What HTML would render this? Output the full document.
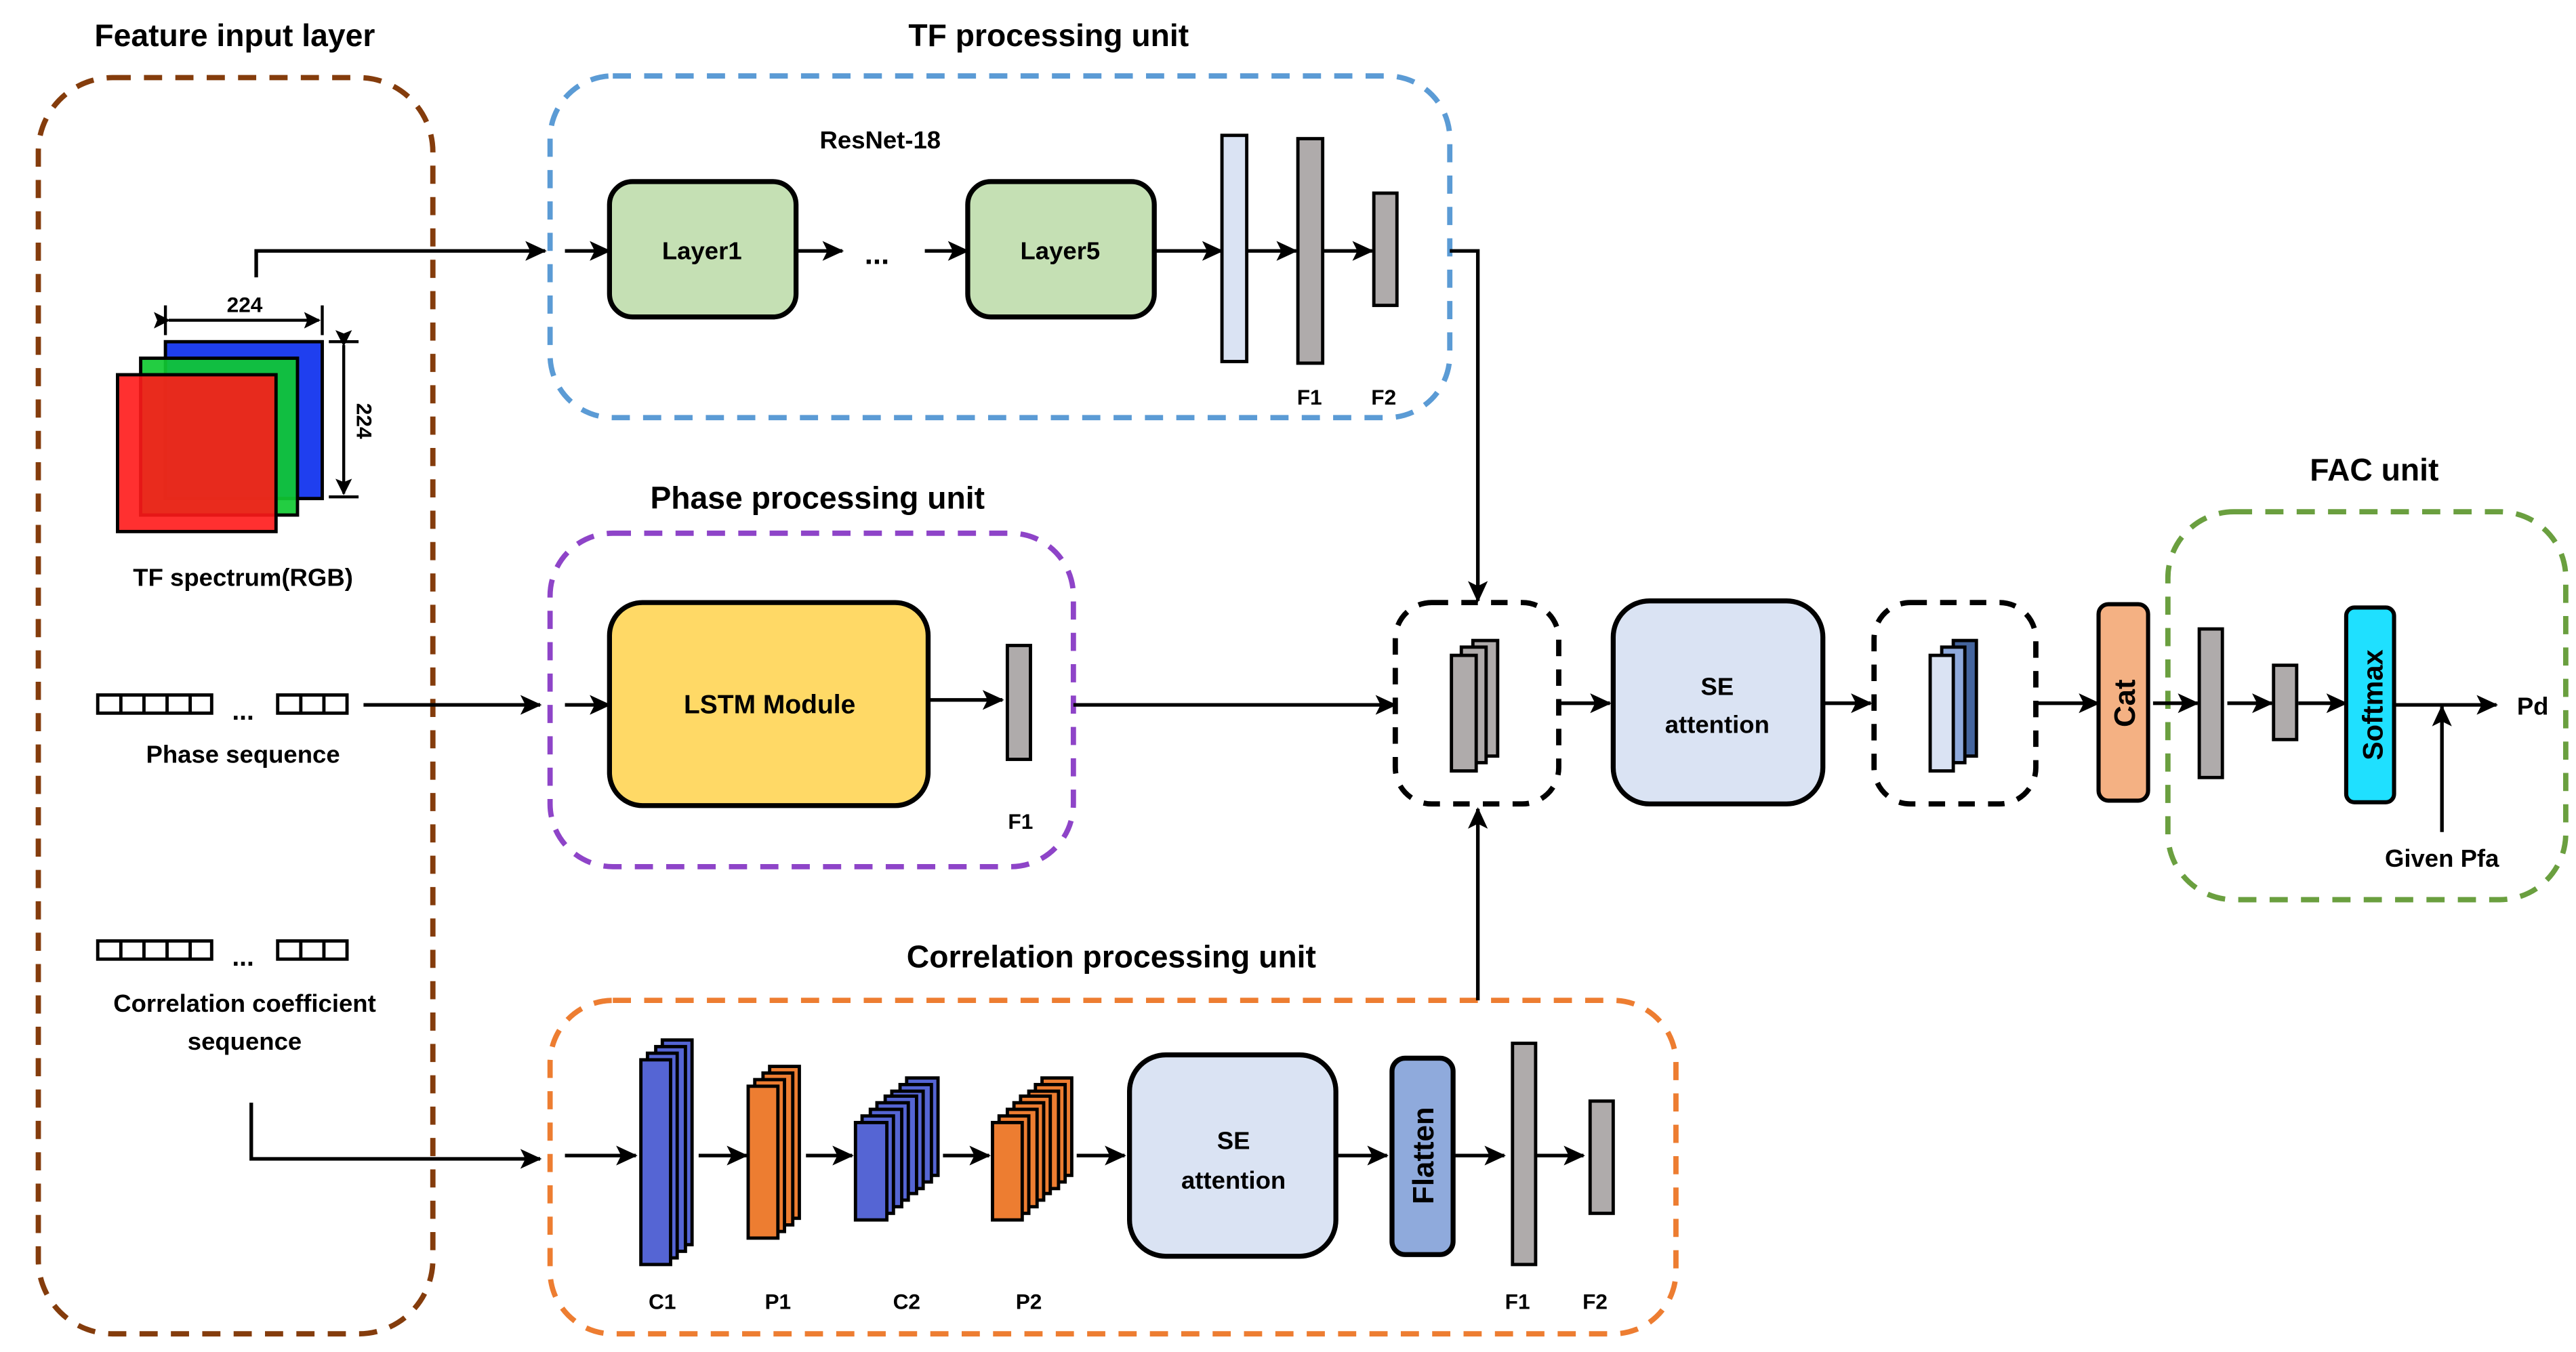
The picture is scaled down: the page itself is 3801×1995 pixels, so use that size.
<!DOCTYPE html>
<html><head><meta charset="utf-8"><style>html,body{margin:0;padding:0;background:#fff}svg{display:block}</style></head>
<body>
<svg width="3801" height="1995" viewBox="0 0 1560 819" xmlns="http://www.w3.org/2000/svg" font-family="Liberation Sans, sans-serif" font-weight="bold">
<defs>
<marker id="a" markerWidth="13" markerHeight="12" refX="12" refY="6" orient="auto" markerUnits="userSpaceOnUse"><path d="M0,0 L13,6 L0,12 L3,6 z" fill="#000"/></marker>
<marker id="d" markerWidth="10" markerHeight="10" refX="9" refY="5" orient="auto" markerUnits="userSpaceOnUse"><path d="M0,0 L10,5 L0,10 L2,5 z" fill="#000"/></marker>
</defs>
<rect width="1560" height="819" fill="#fff"/>
<rect x="23" y="47" width="239" height="761" rx="45" fill="none" stroke="#843C0C" stroke-width="3.2" stroke-dasharray="11 8"/>
<rect x="333" y="46" width="545" height="207" rx="38" fill="none" stroke="#5B9BD5" stroke-width="3.2" stroke-dasharray="11 8"/>
<rect x="333" y="323" width="317" height="202" rx="38" fill="none" stroke="#8E44C8" stroke-width="3.2" stroke-dasharray="11 8"/>
<rect x="333" y="606" width="682" height="202" rx="38" fill="none" stroke="#ED7D31" stroke-width="3.2" stroke-dasharray="11 8"/>
<rect x="1313" y="310" width="241" height="235" rx="40" fill="none" stroke="#6A9F3F" stroke-width="3.2" stroke-dasharray="11 8"/>
<rect x="845" y="365" width="99" height="122" rx="22" fill="none" stroke="#000" stroke-width="3.2" stroke-dasharray="10 8"/>
<rect x="1135" y="365" width="98" height="122" rx="22" fill="none" stroke="#000" stroke-width="3.2" stroke-dasharray="10 8"/>
<g font-size="19" text-anchor="middle">
<text x="142" y="28">Feature input layer</text>
<text x="635" y="28">TF processing unit</text>
<text x="495" y="308">Phase processing unit</text>
<text x="673" y="586">Correlation processing unit</text>
<text x="1438" y="291">FAC unit</text>
</g>
<g font-size="15" text-anchor="middle">
<text x="533" y="90">ResNet-18</text>
<text x="147" y="355">TF spectrum(RGB)</text>
<text x="147" y="462">Phase sequence</text>
<text x="148" y="613">Correlation coefficient</text>
<text x="148" y="636">sequence</text>
<text x="793" y="245" font-size="13">F1</text>
<text x="838" y="245" font-size="13">F2</text>
<text x="618" y="502" font-size="13">F1</text>
<text x="401" y="793" font-size="13">C1</text>
<text x="471" y="793" font-size="13">P1</text>
<text x="549" y="793" font-size="13">C2</text>
<text x="623" y="793" font-size="13">P2</text>
<text x="919" y="793" font-size="13">F1</text>
<text x="966" y="793" font-size="13">F2</text>
<text x="1534" y="433">Pd</text>
<text x="1479" y="525">Given Pfa</text>
</g>
<rect x="100" y="207" width="95" height="95" fill="#1F3FEF" stroke="#000" stroke-width="2"/>
<rect x="85" y="217" width="95" height="95" fill="#10C932" fill-opacity="0.92" stroke="#000" stroke-width="2"/>
<rect x="71" y="227" width="96" height="95" fill="#FF1A1A" fill-opacity="0.9" stroke="#000" stroke-width="2"/>
<g stroke="#000" stroke-width="1.8" fill="none">
<line x1="100" y1="185" x2="100" y2="203"/><line x1="195" y1="185" x2="195" y2="203"/>
<line x1="102" y1="194" x2="193" y2="194" marker-start="url(#d)" marker-end="url(#d)"/>
<line x1="199" y1="207" x2="217" y2="207"/><line x1="199" y1="301" x2="217" y2="301"/>
<line x1="208" y1="209" x2="208" y2="299" marker-start="url(#d)" marker-end="url(#d)"/>
</g>
<text x="148" y="189" font-size="13" text-anchor="middle">224</text>
<text transform="translate(216,255) rotate(90)" font-size="13" text-anchor="middle">224</text>
<g fill="none" stroke="#000" stroke-width="2">
<rect x="59" y="421" width="69" height="11"/><path d="M73,421v11M87,421v11M101,421v11M115,421v11"/>
<rect x="168" y="421" width="42" height="11"/><path d="M182,421v11M196,421v11"/>
<rect x="59" y="570" width="69" height="11"/><path d="M73,570v11M87,570v11M101,570v11M115,570v11"/>
<rect x="168" y="570" width="42" height="11"/><path d="M182,570v11M196,570v11"/>
</g>
<text x="147" y="436" font-size="16" text-anchor="middle">...</text>
<text x="147" y="585" font-size="16" text-anchor="middle">...</text>
<rect x="369" y="110" width="113" height="82" rx="14" fill="#C5E0B4" stroke="#000" stroke-width="3"/>
<rect x="586" y="110" width="113" height="82" rx="14" fill="#C5E0B4" stroke="#000" stroke-width="3"/>
<text x="425" y="157" font-size="15" text-anchor="middle">Layer1</text>
<text x="642" y="157" font-size="15" text-anchor="middle">Layer5</text>
<text x="531" y="160" font-size="18" text-anchor="middle">...</text>
<rect x="740" y="82" width="15" height="137" fill="#DAE3F3" stroke="#000" stroke-width="2"/>
<rect x="786" y="84" width="15" height="136" fill="#AFABAB" stroke="#000" stroke-width="2"/>
<rect x="832" y="117" width="14" height="68" fill="#AFABAB" stroke="#000" stroke-width="2"/>
<g stroke="#000" stroke-width="2.2" fill="none" marker-end="url(#a)">
<polyline points="155,168 155,152 330,152"/>
<line x1="342" y1="152" x2="369" y2="152"/>
<line x1="482" y1="152" x2="510" y2="152"/>
<line x1="560" y1="152" x2="586" y2="152"/>
<line x1="699" y1="152" x2="740" y2="152"/>
<line x1="755" y1="152" x2="785" y2="152"/>
<line x1="801" y1="152" x2="831" y2="152"/>
<polyline points="878,152 895,152 895,364"/>
<line x1="220" y1="427" x2="327" y2="427"/>
<line x1="342" y1="427" x2="369" y2="427"/>
<line x1="562" y1="424" x2="607" y2="424"/>
<line x1="650" y1="427" x2="845" y2="427"/>
<polyline points="152,668 152,702 327,702"/>
<line x1="342" y1="700" x2="385" y2="700"/>
<line x1="423" y1="700" x2="452" y2="700"/>
<line x1="488" y1="700" x2="516" y2="700"/>
<line x1="571" y1="700" x2="599" y2="700"/>
<line x1="652" y1="700" x2="681" y2="700"/>
<line x1="810" y1="700" x2="840" y2="700"/>
<line x1="881" y1="700" x2="911" y2="700"/>
<line x1="929" y1="700" x2="959" y2="700"/>
<polyline points="895,606 895,490"/>
<line x1="944" y1="426" x2="975" y2="426"/>
<line x1="1105" y1="426" x2="1133" y2="426"/>
<line x1="1233" y1="426" x2="1271" y2="426"/>
<line x1="1304" y1="426" x2="1331" y2="426"/>
<line x1="1349" y1="426" x2="1376" y2="426"/>
<line x1="1392" y1="426" x2="1421" y2="426"/>
<line x1="1451" y1="427" x2="1512" y2="427"/>
<line x1="1479" y1="504" x2="1479" y2="428"/>
</g>
<rect x="369" y="365" width="193" height="123" rx="20" fill="#FFD966" stroke="#000" stroke-width="3"/>
<text x="466" y="432" font-size="16" text-anchor="middle">LSTM Module</text>
<rect x="610" y="391" width="14" height="69" fill="#AFABAB" stroke="#000" stroke-width="2"/>
<g stroke="#000" stroke-width="2" fill="#5565D4">
<rect x="401" y="630" width="18" height="124"/><rect x="397" y="634" width="18" height="124"/><rect x="392" y="638" width="18" height="124"/><rect x="388" y="642" width="18" height="124"/>
</g>
<g stroke="#000" stroke-width="2" fill="#ED7D31">
<rect x="466" y="646" width="18" height="92"/><rect x="462" y="650" width="18" height="92"/><rect x="457" y="654" width="18" height="92"/><rect x="453" y="658" width="18" height="92"/>
</g>
<g stroke="#000" stroke-width="2" fill="#5565D4">
<rect x="549" y="653" width="19" height="59"/><rect x="545" y="657" width="19" height="59"/><rect x="540" y="661" width="19" height="59"/><rect x="536" y="664" width="19" height="59"/><rect x="531" y="668" width="19" height="59"/><rect x="527" y="672" width="19" height="59"/><rect x="522" y="676" width="19" height="59"/><rect x="518" y="680" width="19" height="59"/>
</g>
<g stroke="#000" stroke-width="2" fill="#ED7D31">
<rect x="631" y="653" width="18" height="59"/><rect x="627" y="657" width="18" height="59"/><rect x="623" y="661" width="18" height="59"/><rect x="618" y="664" width="18" height="59"/><rect x="614" y="668" width="18" height="59"/><rect x="610" y="672" width="18" height="59"/><rect x="605" y="676" width="18" height="59"/><rect x="601" y="680" width="18" height="59"/>
</g>
<rect x="684" y="639" width="125" height="122" rx="22" fill="#DAE3F3" stroke="#000" stroke-width="3"/>
<text x="747" y="696" font-size="15" text-anchor="middle">SE</text>
<text x="747" y="720" font-size="15" text-anchor="middle">attention</text>
<rect x="843" y="641" width="37" height="119" rx="8" fill="#8FAADC" stroke="#000" stroke-width="3"/>
<text transform="translate(868,700) rotate(-90)" font-size="18" text-anchor="middle">Flatten</text>
<rect x="916" y="632" width="14" height="134" fill="#AFABAB" stroke="#000" stroke-width="2"/>
<rect x="963" y="667" width="14" height="68" fill="#AFABAB" stroke="#000" stroke-width="2"/>
<g stroke="#000" stroke-width="2" fill="#AFABAB">
<rect x="892" y="388" width="15" height="70"/><rect x="885" y="392" width="15" height="70"/><rect x="879" y="397" width="15" height="70"/>
</g>
<rect x="977" y="364" width="127" height="123" rx="22" fill="#DAE3F3" stroke="#000" stroke-width="3"/>
<text x="1040" y="421" font-size="15" text-anchor="middle">SE</text>
<text x="1040" y="444" font-size="15" text-anchor="middle">attention</text>
<rect x="1183" y="388" width="14" height="70" fill="#44659E" stroke="#000" stroke-width="2"/>
<rect x="1176" y="392" width="14" height="70" fill="#8FAADC" stroke="#000" stroke-width="2"/>
<rect x="1169" y="397" width="14" height="70" fill="#DAE3F3" stroke="#000" stroke-width="2"/>
<rect x="1271" y="366" width="30" height="119" rx="6" fill="#F4B183" stroke="#000" stroke-width="2.5"/>
<text transform="translate(1293,426) rotate(-90)" font-size="18" text-anchor="middle">Cat</text>
<rect x="1332" y="381" width="14" height="90" fill="#AFABAB" stroke="#000" stroke-width="2"/>
<rect x="1377" y="403" width="14" height="45" fill="#AFABAB" stroke="#000" stroke-width="2"/>
<rect x="1421" y="368" width="29" height="118" rx="5" fill="#1FE0FF" stroke="#000" stroke-width="2.5"/>
<text transform="translate(1443,427) rotate(-90)" font-size="17" text-anchor="middle">Softmax</text>
</svg>
</body></html>
